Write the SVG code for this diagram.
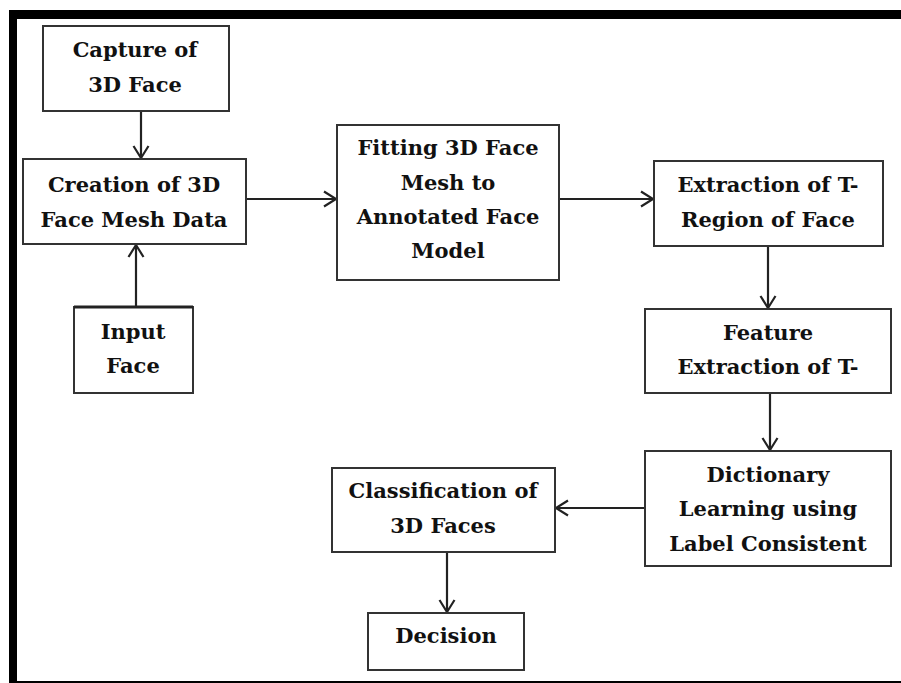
<svg xmlns="http://www.w3.org/2000/svg" width="901" height="683" viewBox="0 0 901 683">
<defs>
<marker id="arr" markerWidth="16" markerHeight="18" refX="13" refY="9" orient="auto" markerUnits="userSpaceOnUse">
<path d="M1,1.5 L13,9 L1,16.5" fill="none" stroke="#222" stroke-width="2.2"/>
</marker>
<style>
.box{fill:#fff;stroke:#333;stroke-width:2}
.t{font-family:"DejaVu Serif","Liberation Serif",serif;font-weight:bold;font-size:21px;fill:#111;text-anchor:middle}
.c{stroke:#222;stroke-width:2.2;fill:none;marker-end:url(#arr)}
</style>
</defs>
<rect x="0" y="0" width="901" height="683" fill="#fff"/>
<g id="frame" fill="#000">
<rect x="9" y="10" width="892" height="9"/>
<rect x="9" y="10" width="8" height="673"/>
<rect x="9" y="681" width="892" height="2"/>
</g>
<g id="connectors">
<line class="c" x1="141" y1="111" x2="141" y2="158"/>
<line class="c" x1="136" y1="307" x2="136" y2="245"/>
<line class="c" x1="246" y1="199" x2="336" y2="199"/>
<line class="c" x1="559" y1="199" x2="653" y2="199"/>
<line class="c" x1="768" y1="246" x2="768" y2="308"/>
<line class="c" x1="770" y1="393" x2="770" y2="450"/>
<line class="c" x1="645" y1="508" x2="556" y2="508"/>
<line class="c" x1="447" y1="552" x2="447" y2="612"/>
</g>
<g id="capture">
<rect class="box" x="43" y="26" width="186" height="85"/>
<text class="t" x="135" y="57">Capture of</text>
<text class="t" x="135" y="92">3D Face</text>
</g>
<g id="creation">
<rect class="box" x="23" y="159" width="223" height="85"/>
<text class="t" x="134" y="192">Creation of 3D</text>
<text class="t" x="134" y="227">Face Mesh Data</text>
</g>
<g id="input">
<rect class="box" x="74" y="307" width="119" height="86"/>
<line x1="74" y1="307" x2="193" y2="307" stroke="#222" stroke-width="3"/>
<text class="t" x="133" y="339">Input</text>
<text class="t" x="133" y="373">Face</text>
</g>
<g id="fitting">
<rect class="box" x="337" y="125" width="222" height="155"/>
<text class="t" x="448" y="155">Fitting 3D Face</text>
<text class="t" x="448" y="190">Mesh to</text>
<text class="t" x="448" y="224">Annotated Face</text>
<text class="t" x="448" y="258">Model</text>
</g>
<g id="extraction">
<rect class="box" x="654" y="161" width="229" height="85"/>
<text class="t" x="768" y="192">Extraction of T-</text>
<text class="t" x="768" y="227">Region of Face</text>
</g>
<g id="feature">
<rect class="box" x="645" y="309" width="246" height="84"/>
<text class="t" x="768" y="340">Feature</text>
<text class="t" x="768" y="374">Extraction of T-</text>
</g>
<g id="dictionary">
<rect class="box" x="645" y="451" width="246" height="115"/>
<text class="t" x="768" y="482">Dictionary</text>
<text class="t" x="768" y="516">Learning using</text>
<text class="t" x="768" y="551">Label Consistent</text>
</g>
<g id="classification">
<rect class="box" x="332" y="468" width="223" height="84"/>
<text class="t" x="443" y="498">Classification of</text>
<text class="t" x="443" y="533">3D Faces</text>
</g>
<g id="decision">
<rect class="box" x="368" y="613" width="156" height="57"/>
<text class="t" x="446" y="643">Decision</text>
</g>
</svg>
